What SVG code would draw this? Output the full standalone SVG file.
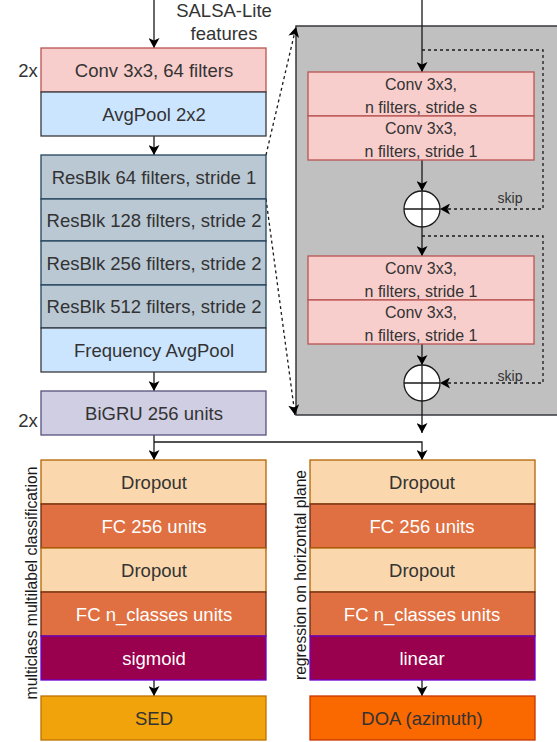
<svg xmlns="http://www.w3.org/2000/svg" width="557" height="742" viewBox="0 0 557 742">
<defs>
<style>
text{font-family:"Liberation Sans",Arial,sans-serif;text-anchor:middle;}
.t{font-size:18.5px;fill:#333333;}
.tw{font-size:18.5px;fill:#ffffff;}
.ti{font-size:16px;fill:#333333;}
.sk{font-size:14px;fill:#333333;}
.rot{font-size:15.7px;fill:#1a1a1a;}
.ln{fill:none;stroke:#1a1a1a;stroke-width:1.3;}
.dl{fill:none;stroke:#1a1a1a;stroke-width:1.3;stroke-dasharray:3,3;}
.conv{fill:#f8cecc;stroke:#b85450;stroke-width:1.3;}
.pool{fill:#cce5ff;stroke:#36393d;stroke-width:1.3;}
.res{fill:#bac8d3;stroke:#23445d;stroke-width:1.3;}
.gru{fill:#d0cee2;stroke:#56517e;stroke-width:1.3;}
.drop{fill:#fad7ac;stroke:#b46504;stroke-width:1.3;}
.fc{fill:#e07042;stroke:#6d2a10;stroke-width:1.3;}
.act{fill:#99004d;stroke:#6a00d0;stroke-width:1.3;}
.sed{fill:#f0a30a;stroke:#bd7000;stroke-width:1.3;}
.doa{fill:#fa6800;stroke:#c73500;stroke-width:1.3;}
</style>
<marker id="a" viewBox="0 0 10 11" refX="10" refY="5.5" markerWidth="10" markerHeight="11" orient="auto" markerUnits="userSpaceOnUse"><path d="M0,0 L10,5.5 L0,11 L2.5,5.5 Z" fill="#000"/></marker>
</defs>

<g id="resblock-detail">
<rect x="296" y="26" width="300" height="389" fill="#c0c0c0" stroke="#36393d" stroke-width="1.5"/>
</g>

<g id="connectors">
<path class="ln" d="M154,0 V48" marker-end="url(#a)"/>
<path class="ln" d="M154,136 V155" marker-end="url(#a)"/>
<path class="ln" d="M154,372 V391" marker-end="url(#a)"/>
<path class="ln" d="M154,435 V460" marker-end="url(#a)"/>
<path class="ln" d="M154,442 H422 V460" marker-end="url(#a)"/>
<path class="ln" d="M154,680 V696" marker-end="url(#a)"/>
<path class="ln" d="M422,680 V696" marker-end="url(#a)"/>
<path class="dl" d="M266,155 L296,27" marker-end="url(#a)"/>
<path class="dl" d="M266,199 L295,415" marker-end="url(#a)"/>
<path class="ln" d="M422,0 V72" marker-end="url(#a)"/>
<path class="ln" d="M422,160 V191" marker-end="url(#a)"/>
<path class="ln" d="M422,227 V256" marker-end="url(#a)"/>
<path class="ln" d="M422,344 V365" marker-end="url(#a)"/>
<path class="ln" d="M422,401 V433" marker-end="url(#a)"/>
<path class="dl" d="M422,50 H543 V209 H440" marker-end="url(#a)"/>
<path class="dl" d="M422,236 H543 V383 H440" marker-end="url(#a)"/>
</g>

<g id="salsa-label">
<text class="t" x="224" y="17">SALSA-Lite</text>
<text class="t" x="224" y="40">features</text>
</g>

<g id="conv64">
<rect class="conv" x="41" y="48" width="225" height="44"/>
<text class="t" x="154" y="76.5">Conv 3x3, 64 filters</text>
<text class="t" x="28" y="77">2x</text>
</g>
<g id="avgpool">
<rect class="pool" x="41" y="92" width="225" height="44"/>
<text class="t" x="154" y="120.5">AvgPool 2x2</text>
</g>
<g id="resblk64">
<rect class="res" x="41" y="155" width="225" height="44"/>
<text class="t" x="154" y="183.5">ResBlk 64 filters, stride 1</text>
</g>
<g id="resblk128">
<rect class="res" x="41" y="199" width="225" height="42"/>
<text class="t" x="154" y="226.5">ResBlk 128 filters, stride 2</text>
</g>
<g id="resblk256">
<rect class="res" x="41" y="241" width="225" height="44"/>
<text class="t" x="154" y="269.5">ResBlk 256 filters, stride 2</text>
</g>
<g id="resblk512">
<rect class="res" x="41" y="285" width="225" height="43"/>
<text class="t" x="154" y="313">ResBlk 512 filters, stride 2</text>
</g>
<g id="freqpool">
<rect class="pool" x="41" y="328" width="225" height="44" stroke="#1a1a1a"/>
<text class="t" x="154" y="356.5">Frequency AvgPool</text>
</g>
<g id="bigru">
<rect class="gru" x="41" y="391" width="225" height="44"/>
<text class="t" x="154" y="419.5">BiGRU 256 units</text>
<text class="t" x="28" y="427">2x</text>
</g>

<g id="inner-conv1">
<rect class="conv" x="308" y="72" width="226" height="44"/>
<text class="ti" x="421" y="90">Conv 3x3,</text>
<text class="ti" x="421" y="113">n filters, stride s</text>
</g>
<g id="inner-conv2">
<rect class="conv" x="308" y="116" width="226" height="44"/>
<text class="ti" x="421" y="134">Conv 3x3,</text>
<text class="ti" x="421" y="157">n filters, stride 1</text>
</g>
<g id="sum1">
<circle cx="422" cy="209" r="18" fill="#ffffff" stroke="#1a1a1a" stroke-width="1.3"/>
<path class="ln" d="M404,209 H440 M422,191 V227"/>
<text class="sk" x="510" y="203">skip</text>
</g>
<g id="inner-conv3">
<rect class="conv" x="308" y="256" width="226" height="44"/>
<text class="ti" x="421" y="274">Conv 3x3,</text>
<text class="ti" x="421" y="297">n filters, stride 1</text>
</g>
<g id="inner-conv4">
<rect class="conv" x="308" y="300" width="226" height="44"/>
<text class="ti" x="421" y="318">Conv 3x3,</text>
<text class="ti" x="421" y="341">n filters, stride 1</text>
</g>
<g id="sum2">
<circle cx="422" cy="383" r="18" fill="#ffffff" stroke="#1a1a1a" stroke-width="1.3"/>
<path class="ln" d="M404,383 H440 M422,365 V401"/>
<text class="sk" x="510" y="381">skip</text>
</g>

<g id="sed-head">
<rect class="drop" x="41" y="460" width="225" height="44"/>
<text class="t" x="154" y="488.5">Dropout</text>
<rect class="fc" x="41" y="504" width="225" height="44"/>
<text class="tw" x="154" y="532.5">FC 256 units</text>
<rect class="drop" x="41" y="548" width="225" height="44"/>
<text class="t" x="154" y="576.5">Dropout</text>
<rect class="fc" x="41" y="592" width="225" height="44"/>
<text class="tw" x="154" y="620.5">FC n_classes units</text>
<rect class="act" x="41" y="636" width="225" height="44"/>
<text class="tw" x="154" y="664.5">sigmoid</text>
<text class="rot" transform="translate(37,583) rotate(-90)">multiclass multilabel classification</text>
</g>
<g id="sed">
<rect class="sed" x="41" y="696" width="225" height="44"/>
<text class="t" x="154" y="724.5">SED</text>
</g>

<g id="doa-head">
<rect class="drop" x="310" y="460" width="225" height="44"/>
<text class="t" x="422" y="488.5">Dropout</text>
<rect class="fc" x="310" y="504" width="225" height="44"/>
<text class="tw" x="422" y="532.5">FC 256 units</text>
<rect class="drop" x="310" y="548" width="225" height="44"/>
<text class="t" x="422" y="576.5">Dropout</text>
<rect class="fc" x="310" y="592" width="225" height="44"/>
<text class="tw" x="422" y="620.5">FC n_classes units</text>
<rect class="act" x="310" y="636" width="225" height="44"/>
<text class="tw" x="422" y="664.5">linear</text>
<text class="rot" transform="translate(306,575) rotate(-90)">regression on horizontal plane</text>
</g>
<g id="doa">
<rect class="doa" x="310" y="696" width="225" height="44"/>
<text class="t" x="422" y="724.5">DOA (azimuth)</text>
</g>
</svg>
